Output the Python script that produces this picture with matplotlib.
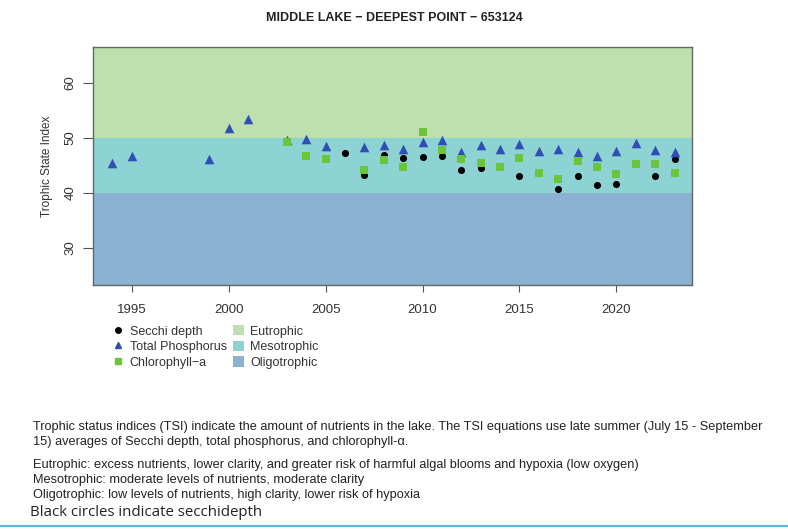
import matplotlib
matplotlib.use("Agg")
import matplotlib.pyplot as plt
from matplotlib.lines import Line2D
from matplotlib.patches import Patch

plt.rcParams["font.family"] = ["Liberation Sans", "DejaVu Sans"]

# --- datos ---
tp_years = [1994, 1995, 1999, 2000, 2001, 2003, 2004, 2005, 2007, 2008, 2009, 2010, 2011,
            2012, 2013, 2014, 2015, 2016, 2017, 2018, 2019, 2020, 2021, 2022, 2023]
tp_tsi = [45.5, 46.7, 46.2, 51.8, 53.5, 49.6, 49.8, 48.5, 48.3, 48.7, 48.0, 49.3, 49.6,
          47.5, 48.7, 48.0, 48.9, 47.7, 47.9, 47.4, 46.8, 47.7, 49.0, 47.8, 47.5]

chl_years = [2003, 2004, 2005, 2007, 2008, 2009, 2010, 2011, 2012, 2013, 2014, 2015,
             2016, 2017, 2018, 2019, 2020, 2021, 2022, 2023]
chl_tsi = [49.3, 46.7, 46.2, 44.1, 45.9, 44.7, 51.0, 47.8, 46.1, 45.5, 44.7, 46.3,
           43.7, 42.6, 45.8, 44.7, 43.5, 45.2, 45.2, 43.6]

sd_years = [2006, 2007, 2008, 2009, 2010, 2011, 2012, 2013, 2015, 2017, 2018, 2019,
            2020, 2022, 2023]
sd_tsi = [47.3, 43.3, 46.9, 46.4, 46.6, 46.8, 44.2, 44.5, 43.1, 40.7, 43.1, 41.5,
          41.6, 43.1, 46.2]

x_ticks = [1995, 2000, 2005, 2010, 2015, 2020]
y_ticks = [30, 40, 50, 60]

EUT, MESO, OLIGO = "#bde0ae", "#8dd3d4", "#8cb2d1"
BLUE, GREEN = "#2f4fb5", "#6cc43c"

fig = plt.figure(figsize=(7.88, 5.29), dpi=100)
ax = fig.add_axes([93 / 788, 1 - 285 / 529, 599 / 788, 238 / 529])

ax.axhspan(50, 100, color=EUT, lw=0, zorder=0)
ax.axhspan(40, 50, color=MESO, lw=0, zorder=0)
ax.axhspan(0, 40, color=OLIGO, lw=0, zorder=0)

ax.scatter(sd_years, sd_tsi, marker="o", s=26, color="black", lw=0, zorder=3)
ax.scatter(tp_years, tp_tsi, marker="^", s=48, color=BLUE, lw=0, zorder=3)
ax.scatter(chl_years, chl_tsi, marker="s", s=30, color=GREEN, lw=0, zorder=3)

ax.set_xlim(1993.0, 2023.9)
ax.set_ylim(23.3, 66.5)
ax.set_xticks(x_ticks)
ax.set_yticks(y_ticks)
ax.set_xticklabels([str(t) for t in x_ticks], fontsize=9.5, color="#333333")
ax.set_yticklabels([str(t) for t in y_ticks], fontsize=9.5, color="#333333",
                   rotation=90, va="center")
ax.tick_params(axis="x", length=5, pad=9, color="#555555")
ax.tick_params(axis="y", length=7, pad=5, color="#555555")
for s in ax.spines.values():
    s.set_color("#666666")
    s.set_linewidth(1.0)
ax.set_ylabel("Trophic State Index", fontsize=8.5, color="#333333", labelpad=8)

fig.text(0.5, 1 - 18 / 529, "MIDDLE LAKE \u2212 DEEPEST POINT \u2212 653124",
         ha="center", va="center", fontsize=9, fontweight="bold", color="#222222")

handles = [
    Line2D([], [], marker="o", ls="none", color="black", markersize=4),
    Line2D([], [], marker="^", ls="none", color=BLUE, markersize=5),
    Line2D([], [], marker="s", ls="none", color=GREEN, markersize=4),
    Patch(facecolor=EUT, edgecolor="none"),
    Patch(facecolor=MESO, edgecolor="none"),
    Patch(facecolor=OLIGO, edgecolor="none"),
]
labels = ["Secchi depth", "Total Phosphorus", "Chlorophyll\u2212a",
          "Eutrophic", "Mesotrophic", "Oligotrophic"]
fig.legend(handles, labels, ncol=2, loc="upper left",
           bbox_to_anchor=(112 / 788, 1 - 325 / 529), frameon=False,
           fontsize=9, handlelength=0.9, handleheight=0.9, handletextpad=0.5,
           columnspacing=0.5, labelspacing=0.25, borderpad=0, borderaxespad=0,
           labelcolor="#333333")

para = [
    (427, "Trophic status indices (TSI) indicate the amount of nutrients in the lake. The TSI equations use late summer (July 15 - September"),
    (442, "15) averages of Secchi depth, total phosphorus, and chlorophyll-\u03b1."),
    (465, "Eutrophic: excess nutrients, lower clarity, and greater risk of harmful algal blooms and hypoxia (low oxygen)"),
    (480, "Mesotrophic: moderate levels of nutrients, moderate clarity"),
    (495, "Oligotrophic: low levels of nutrients, high clarity, lower risk of hypoxia"),
]
for y, t in para:
    fig.text(33 / 788, 1 - y / 529, t, ha="left", va="center", fontsize=9.2,
             color="#222222")

fig.text(30 / 788, 1 - 513 / 529, "Black circles indicate secchidepth", ha="left",
         va="center", fontsize=10.8, color="#222222", family=["Open Sans", "DejaVu Sans"])

fig.add_artist(Line2D([0, 1], [1 - 526 / 529] * 2, color="#5bb8d8", lw=1.5))

fig.savefig("out.png", dpi=100)
